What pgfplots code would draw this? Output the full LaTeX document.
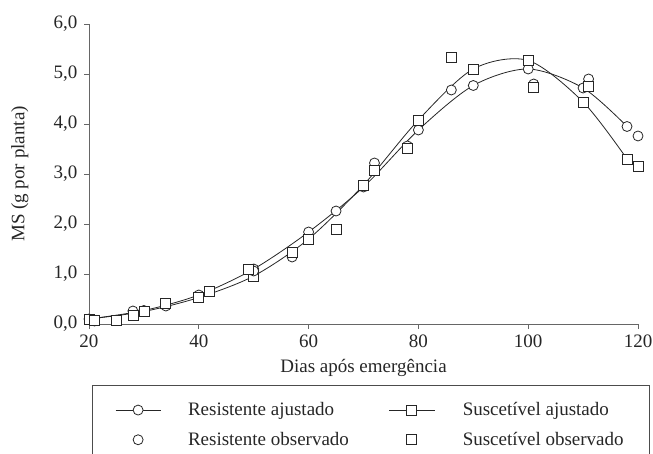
\documentclass[border=0pt]{standalone}
\usepackage{fontspec}
\setmainfont{Liberation Serif}
\usepackage{pgfplots}
\pgfplotsset{compat=1.18}
\newcommand\ff{\fontsize{19}{22.8}\selectfont}
\begin{document}
\begin{tikzpicture}
\begin{axis}[
  width=549pt, height=300pt, scale only axis,
  xmin=20, xmax=120, ymin=0, ymax=6,
  clip=false,
  axis x line=bottom, axis y line=left,
  axis line style={-, black!60, line width=0.8pt},
  xtick={20,40,...,120}, ytick={0,1,...,6},
  tick align=outside, major tick length=5pt,
  tick style={black!60, line width=0.8pt},
  /pgf/number format/assume math mode=true,
  yticklabel style={/pgf/number format/fixed, /pgf/number format/fixed zerofill,
    /pgf/number format/precision=1, /pgf/number format/use comma, xshift=-3pt},
  tick label style={font=\ff, text=black!85},
  xticklabel style={yshift=-2pt},
  xlabel={Dias após emergência}, ylabel={MS (g por planta)},
  label style={font=\ff, text=black!85},
  xlabel style={at={(axis description cs:0.5,-0.147)}, anchor=center},
  ylabel style={at={(axis description cs:-0.126,0.5)}, anchor=center},
  legend columns=2, legend cell align=left,
  legend style={at={(axis description cs:0.0474,-0.255)}, anchor=north west,
    draw=none, fill=none, inner xsep=0pt, inner ysep=0pt,
    font=\ff, text=black!85, row sep=11pt,
    /tikz/column 1/.style={column sep=25pt},
    /tikz/column 2/.style={column sep=38pt},
    /tikz/column 3/.style={column sep=26pt}},
  legend image code/.code={\draw[mark repeat=2,mark phase=2,#1] plot coordinates {(0pt,0pt) (22.5pt,0pt) (45pt,0pt)};},
]
\coordinate (bl) at (axis cs:20,0);
% Resistente ajustado
\addplot[smooth, black!85, line width=0.8pt, mark=*, mark size=5pt,
  mark options={fill=white, draw=black!85, line width=0.8pt}] coordinates {
  (20,0.10)(30,0.27)(40,0.58)(50,1.10)(60,1.84)(70,2.74)(80,3.88)(90,4.77)(100,5.10)(110,4.72)(118,3.95)};
\addlegendentry{Resistente ajustado}
% Suscetivel ajustado
\addplot[smooth, black!85, line width=0.8pt, mark=square*, mark size=5pt,
  mark options={fill=white, draw=black!85, line width=0.8pt}] coordinates {
  (20,0.10)(30,0.25)(40,0.53)(50,0.96)(60,1.70)(70,2.78)(80,4.08)(90,5.10)(100,5.27)(110,4.44)(118,3.30)};
\addlegendentry{Suscetível ajustado}
% Resistente observado
\addplot[only marks, mark=*, mark size=5pt,
  mark options={fill=white, draw=black!85, line width=0.8pt}] coordinates {
  (21,0.06)(28,0.26)(34,0.36)(50,1.06)(57,1.34)(65,2.26)(72,3.22)(78,3.56)(86,4.68)(101,4.80)(111,4.90)(120,3.76)};
\addlegendentry{Resistente observado}
% Suscetivel observado
\addplot[only marks, mark=square*, mark size=5pt,
  mark options={fill=white, draw=black!85, line width=0.8pt}] coordinates {
  (21,0.08)(25,0.08)(28,0.18)(34,0.42)(42,0.66)(49,1.10)(57,1.44)(65,1.90)(72,3.08)(78,3.52)(86,5.34)(101,4.74)(111,4.76)(120,3.16)};
\addlegendentry{Suscetível observado}
\end{axis}
% legend frame
\draw[black!70, line width=0.8pt] (bl) ++(3pt,-61pt) rectangle ++(557pt,-90pt);
\pgfresetboundingbox
\path (bl) ++(-89pt,-130pt) rectangle ++(653pt,454pt);
\end{tikzpicture}
\end{document}
